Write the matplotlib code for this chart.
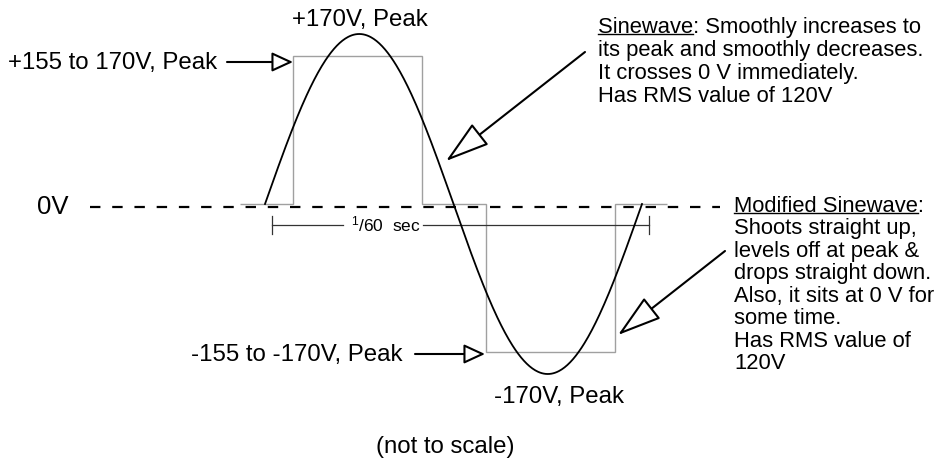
import numpy as np
import matplotlib.pyplot as plt

plt.rcParams['font.family'] = 'Liberation Sans'
plt.rcParams['mathtext.fontset'] = 'custom'
plt.rcParams['mathtext.rm'] = 'Liberation Sans'
plt.rcParams['mathtext.it'] = 'Liberation Sans:italic'
plt.rcParams['lines.scale_dashes'] = False

# data: 60 Hz line voltage, time in ms, voltage in V
period_ms = 1000.0 / 60
sine_peak = 170
mod_edges = [-1.1, 1.24, 6.94, 9.77, 15.47, 17.77]   # modified sinewave switching times
mod_levels = [0, 148, 0, -148, 0]                    # modified sinewave levels
zero_line = [-7.75, 20.1]                           # extent of 0V reference
zero_offset = -3
bracket = [0.3, 0.3 + period_ms]                    # 1/60 sec span
bracket_v = -21
bracket_gap = [3.45, 7.0]

sine_note = ['Sinewave', ': Smoothly increases to',
             'its peak and smoothly decreases.',
             'It crosses 0 V immediately.',
             'Has RMS value of 120V']
mod_note = ['Modified Sinewave', ':',
            'Shoots straight up,',
            'levels off at peak &',
            'drops straight down.',
            'Also, it sits at 0 V for',
            'some time.',
            'Has RMS value of',
            '120V']

# pixel layout helpers (figure is 938x460 px)
PX_PER_MS = 22.62
X0, Y0 = 265, 205


def P(px, py):
    return ((px - X0) / PX_PER_MS, Y0 - py)


fig = plt.figure(figsize=(9.38, 4.6), dpi=100)
ax = fig.add_axes([0, 0, 1, 1])
ax.set_xlim(P(0, 0)[0], P(938, 0)[0])
ax.set_ylim(P(0, 460)[1], P(0, 0)[1])
ax.axis('off')

# waves
t = np.linspace(0, period_ms, 400)
ax.plot(t, sine_peak * np.sin(2 * np.pi * t / period_ms), color='black', lw=1.3, zorder=3)
ax.stairs(mod_levels, mod_edges, baseline=None, color='#a0a0a0', lw=1.0, zorder=2)
ax.plot(zero_line, [zero_offset, zero_offset], color='black', lw=1.6,
        dashes=(7.5, 8.5), zorder=1)

# 1/60 sec bracket
bc = '#333333'
ax.plot([bracket[0], bracket_gap[0]], [bracket_v, bracket_v], color=bc, lw=0.9)
ax.plot([bracket_gap[1], bracket[1]], [bracket_v, bracket_v], color=bc, lw=0.9)
for b in bracket:
    ax.plot([b, b], [bracket_v + 9, bracket_v - 9], color=bc, lw=0.9)
ax.text(*P(386, 224), r'$^{1}$/60  sec', ha='center', va='center', fontsize=12.5)

fs = 17.3
ax.text(*P(360, 20), '+170V, Peak', ha='center', va='center', fontsize=fs)
ax.text(*P(559, 397), '-170V, Peak', ha='center', va='center', fontsize=fs)
ax.text(*P(445, 447), '(not to scale)', ha='center', va='center', fontsize=fs)
ax.text(*P(37, 207), '0V', ha='left', va='center', fontsize=18.5)
ax.text(*P(8, 63), '+155 to 170V, Peak', ha='left', va='center', fontsize=fs)
ax.text(*P(402, 355), '-155 to -170V, Peak', ha='right', va='center', fontsize=fs)

nfs = 15.8


def note(px, py, lines, spacing):
    word, rest = lines[0], lines[1]
    body = word + rest + '\n' + '\n'.join(lines[2:])
    ax.text(*P(px, py), body, ha='left', va='top', fontsize=nfs, linespacing=spacing)
    # underline the heading word
    r = fig.canvas.get_renderer()
    tmp = ax.text(*P(px, py), word, ha='left', va='top', fontsize=nfs)
    bb = tmp.get_window_extent(r)
    tmp.remove()
    inv = ax.transData.inverted()
    (x0, y0), (x1, _) = inv.transform([(bb.x0, bb.y0 + 3), (bb.x1, bb.y0 + 3)])
    ax.plot([x0, x1], [y0, y0], color='black', lw=1.0)


note(598, 17, sine_note, 1.12)
note(734, 196, mod_note, 1.09)

# hollow-headed arrows
small = dict(arrowstyle='-|>,head_length=1.3,head_width=0.6', fc='white', ec='black',
             lw=1.5, mutation_scale=10, shrinkA=0, shrinkB=0)
big = dict(arrowstyle='-|>,head_length=2.8,head_width=0.85', fc='white', ec='black',
           lw=1.5, mutation_scale=10, shrinkA=0, shrinkB=0)
ax.annotate('', xy=P(293, 63), xytext=P(227, 63), arrowprops=small)
ax.annotate('', xy=P(485, 355), xytext=P(415, 355), arrowprops=small)
ax.annotate('', xy=P(446, 162), xytext=P(585, 53), arrowprops=big)
ax.annotate('', xy=P(618, 336), xytext=P(725, 252), arrowprops=big)

fig.savefig('out.png', dpi=100)
